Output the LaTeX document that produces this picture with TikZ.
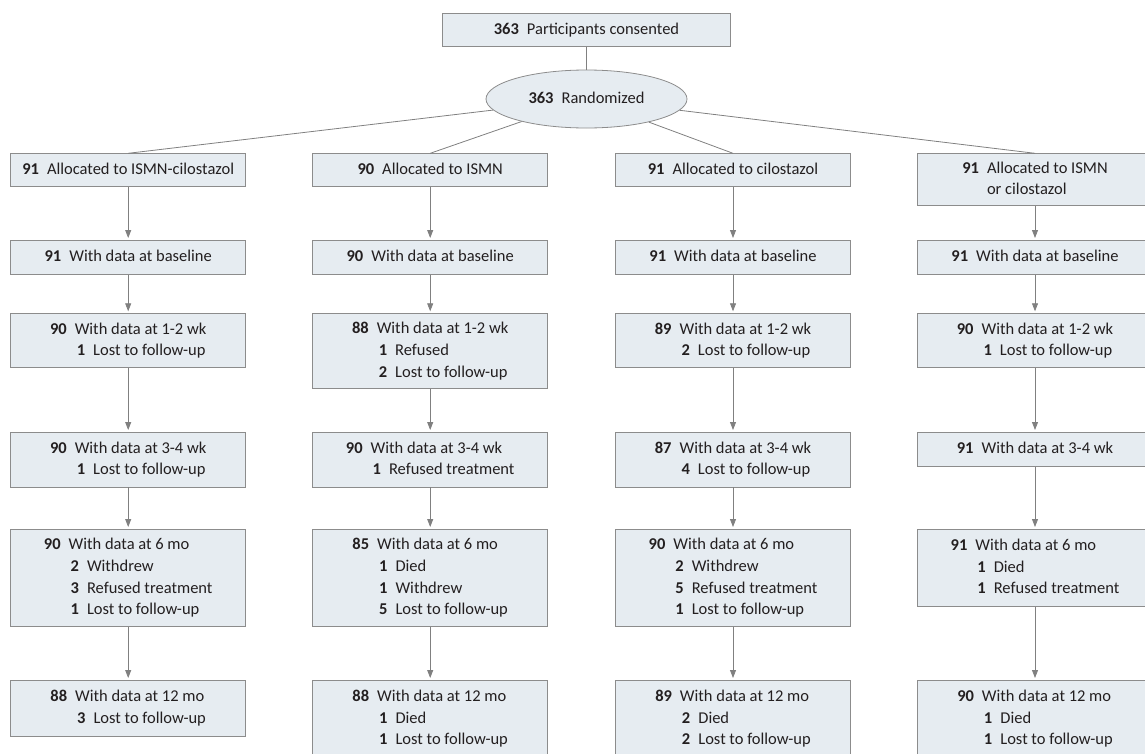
\documentclass[tikz,border=0pt]{standalone}
\usepackage{fontspec}
\setmainfont{Carlito}
\usetikzlibrary{shapes.geometric,arrows.meta}
\definecolor{boxfill}{HTML}{E6ECF1}
\definecolor{boxdraw}{HTML}{8C8C8C}
\definecolor{linec}{HTML}{808080}
\definecolor{txt}{HTML}{231F20}
\newcommand{\blk}[1]{\begin{tabular}{@{}r@{\hspace{8pt}}l@{}}#1\end{tabular}}
\newcommand{\subl}[2]{&\hspace{2pt}\textbf{#1}\hspace{8pt}#2}
\newcommand{\bx}[5]{\node[fbox, minimum height=#4pt] (#1) at (#2,#3) {\blk{#5}};}
\begin{document}
\begin{tikzpicture}[x=1pt,y=-1pt,
  fbox/.style={draw=boxdraw, fill=boxfill, line width=0.8pt, minimum width=235pt, inner sep=0pt, anchor=north, text=txt, font=\fontsize{16.5}{21.7}\selectfont},
  conn/.style={draw=linec, line width=0.8pt},
  arr/.style={conn, -{Triangle[length=8pt,width=6pt]}, shorten >=2pt}]
\useasboundingbox (0,0) rectangle (1145,753);
% top
\node[fbox, minimum width=288.4pt, minimum height=32.7pt] (cons) at (586.5,13.3) {\blk{\textbf{363}& Participants consented}};
\node[ellipse, draw=boxdraw, fill=boxfill, line width=0.8pt, minimum width=201pt, minimum height=58pt, inner sep=0pt, text=txt, font=\fontsize{16.5}{21.7}\selectfont] (rand) at (586.5,99) {\blk{\textbf{363}& Randomized}};
% column 1
\bx{a1}{128.2}{153.3}{33}{\textbf{91}& Allocated to ISMN-cilostazol}
\bx{b1}{128.2}{240}{34}{\textbf{91}& With data at baseline}
\bx{c1}{128.2}{313.3}{54}{\textbf{90}& With data at 1-2 wk\\ \subl{1}{Lost to follow-up}}
\bx{d1}{128.2}{432}{54.5}{\textbf{90}& With data at 3-4 wk\\ \subl{1}{Lost to follow-up}}
\bx{e1}{128.2}{529}{97}{\textbf{90}& With data at 6 mo\\ \subl{2}{Withdrew}\\ \subl{3}{Refused treatment}\\ \subl{1}{Lost to follow-up}}
\bx{f1}{128.2}{680}{55.7}{\textbf{88}& With data at 12 mo\\ \subl{3}{Lost to follow-up}}
% column 2
\bx{a2}{430.2}{153.3}{33}{\textbf{90}& Allocated to ISMN}
\bx{b2}{430.2}{240}{34}{\textbf{90}& With data at baseline}
\bx{c2}{430.2}{313.3}{75}{\textbf{88}& With data at 1-2 wk\\ \subl{1}{Refused}\\ \subl{2}{Lost to follow-up}}
\bx{d2}{430.2}{432}{54.5}{\textbf{90}& With data at 3-4 wk\\ \subl{1}{Refused treatment}}
\bx{e2}{430.2}{529}{97}{\textbf{85}& With data at 6 mo\\ \subl{1}{Died}\\ \subl{1}{Withdrew}\\ \subl{5}{Lost to follow-up}}
\bx{f2}{430.2}{680}{77}{\textbf{88}& With data at 12 mo\\ \subl{1}{Died}\\ \subl{1}{Lost to follow-up}}
% column 3
\bx{a3}{733}{153.3}{33}{\textbf{91}& Allocated to cilostazol}
\bx{b3}{733}{240}{34}{\textbf{91}& With data at baseline}
\bx{c3}{733}{313.3}{54}{\textbf{89}& With data at 1-2 wk\\ \subl{2}{Lost to follow-up}}
\bx{d3}{733}{432}{54.5}{\textbf{87}& With data at 3-4 wk\\ \subl{4}{Lost to follow-up}}
\bx{e3}{733}{529}{97}{\textbf{90}& With data at 6 mo\\ \subl{2}{Withdrew}\\ \subl{5}{Refused treatment}\\ \subl{1}{Lost to follow-up}}
\bx{f3}{733}{680}{77}{\textbf{89}& With data at 12 mo\\ \subl{2}{Died}\\ \subl{2}{Lost to follow-up}}
% column 4
\bx{a4}{1035}{153.3}{52}{\textbf{91}& Allocated to ISMN\\ & or cilostazol}
\bx{b4}{1035}{240}{34}{\textbf{91}& With data at baseline}
\bx{c4}{1035}{313.3}{54}{\textbf{90}& With data at 1-2 wk\\ \subl{1}{Lost to follow-up}}
\bx{d4}{1035}{432}{34}{\textbf{91}& With data at 3-4 wk}
\bx{e4}{1035}{529}{76.7}{\textbf{91}& With data at 6 mo\\ \subl{1}{Died}\\ \subl{1}{Refused treatment}}
\bx{f4}{1035}{680}{77}{\textbf{90}& With data at 12 mo\\ \subl{1}{Died}\\ \subl{1}{Lost to follow-up}}
% connectors
\draw[conn] (cons.south) -- (rand.north);
\foreach \c in {1,...,4}{
  \draw[conn] (rand) -- (a\c.north);
  \draw[arr] (a\c.south) -- (b\c.north);
  \draw[arr] (b\c.south) -- (c\c.north);
  \draw[arr] (c\c.south) -- (d\c.north);
  \draw[arr] (d\c.south) -- (e\c.north);
  \draw[arr] (e\c.south) -- (f\c.north);
}
\end{tikzpicture}
\end{document}
